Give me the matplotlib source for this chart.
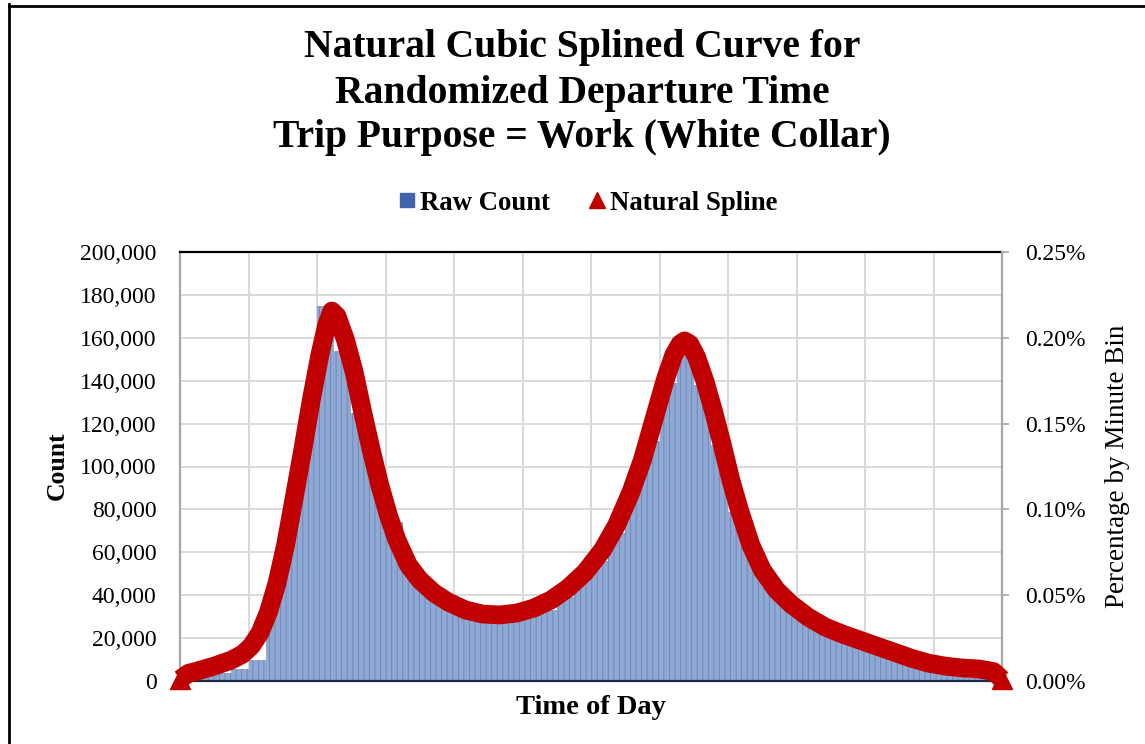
import matplotlib
matplotlib.use('Agg')
import matplotlib.pyplot as plt
from matplotlib.lines import Line2D
from matplotlib.ticker import FuncFormatter

plt.rcParams['font.family'] = ['Liberation Serif', 'DejaVu Serif']
plt.rcParams['hatch.linewidth'] = 0.7

# ---- data ----
# raw counts, read per 30-minute block (minute bins within a block are ~equal)
block_start_min = list(range(0, 1440, 30))
raw_count = [1500, 2500, 3500, 5500, 10000, 43000, 76000, 125000,
             175000, 154000, 125000, 98000, 74000, 51000, 43000, 38000,
             34000, 32000, 31000, 30500, 31000, 33000, 39000, 47000,
             56000, 69000, 90000, 112000, 139000, 154000, 138000, 110000,
             79000, 60000, 44000, 36000, 30000, 26000, 23000, 20000,
             16500, 13000, 8000, 5500, 3500, 2500, 1500, 1000]

# natural spline, percentage by minute bin
spline_min = [0, 15, 30, 60, 90, 110, 125, 140, 155, 170, 185, 200, 215, 230,
              245, 257, 266, 275, 290, 305, 320, 335, 350, 365, 380, 400, 420,
              445, 470, 500, 530, 560, 590, 620, 650, 680, 710, 740, 765, 790,
              810, 830, 850, 865, 876, 884, 893, 905, 920, 935, 950, 965, 980,
              1000, 1020, 1045, 1070, 1100, 1130, 1160, 1190, 1220, 1250, 1280,
              1310, 1340, 1370, 1400, 1425, 1440]
spline_pct = [0.0010, 0.0045, 0.0058, 0.0087, 0.0122, 0.0157, 0.0204, 0.0280,
              0.0402, 0.0571, 0.0793, 0.1067, 0.1346, 0.1638, 0.1900, 0.2075,
              0.2156, 0.2127, 0.1987, 0.1801, 0.1568, 0.1346, 0.1142, 0.0967,
              0.0822, 0.0676, 0.0589, 0.0513, 0.0460, 0.0414, 0.0390, 0.0385,
              0.0396, 0.0425, 0.0472, 0.0542, 0.0635, 0.0763, 0.0909, 0.1101,
              0.1288, 0.1521, 0.1754, 0.1900, 0.1964, 0.1982, 0.1964, 0.1888,
              0.1743, 0.1568, 0.1375, 0.1171, 0.0997, 0.0793, 0.0647, 0.0530,
              0.0449, 0.0373, 0.0315, 0.0274, 0.0239, 0.0204, 0.0169, 0.0134,
              0.0105, 0.0087, 0.0076, 0.0070, 0.0055, 0.0010]

count_ticks = list(range(0, 200001, 20000))
pct_ticks = [0.0, 0.05, 0.10, 0.15, 0.20, 0.25]
hour_grid_min = list(range(0, 1441, 120))

title_lines = ["Natural Cubic Splined Curve for",
               "Randomized Departure Time",
               "Trip Purpose = Work (White Collar)"]

# ---- figure ----
W, H = 1145, 744
fig = plt.figure(figsize=(W / 100, H / 100), dpi=100)
ax = fig.add_axes([180 / W, 1 - 681 / H, 822 / W, 429 / H])

ax.bar(block_start_min, raw_count, width=30, align='edge',
       facecolor='#90A9D2', edgecolor='#6B89C0', linewidth=0,
       hatch='|||', zorder=2)
ax.set_xlim(0, 1440)
ax.set_ylim(0, 200000)
ax.set_yticks(count_ticks)
ax.yaxis.set_major_formatter(FuncFormatter(lambda v, p: f"{int(v):,}"))
ax.set_xticks(hour_grid_min)
ax.set_xticklabels([])
ax.tick_params(axis='x', length=0)
ax.tick_params(axis='y', length=0, pad=17, labelsize=17)
ax.set_axisbelow(True)
ax.grid(True, color='#D9D9D9', linewidth=1.4, zorder=0)

for s in ['left', 'right']:
    ax.spines[s].set_color('#A6A6A6')
    ax.spines[s].set_linewidth(1.6)
ax.spines['right'].set_visible(False)
ax.spines['top'].set_color('black')
ax.spines['top'].set_linewidth(1.6)
ax.spines['bottom'].set_color('#1F2B45')
ax.spines['bottom'].set_linewidth(1.6)

ax2 = ax.twinx()
ax2.plot(spline_min, spline_pct, color='#C00000', linewidth=13.5,
         solid_joinstyle='round', solid_capstyle='butt', clip_on=False,
         zorder=3)
ax2.plot([spline_min[0], spline_min[-1]], [spline_pct[0], spline_pct[-1]],
         linestyle='none', marker='^', markersize=15, color='#C00000',
         clip_on=False, zorder=3)
ax2.set_ylim(0, 0.25)
ax2.set_yticks(pct_ticks)
ax2.yaxis.set_major_formatter(FuncFormatter(lambda v, p: f"{v:.2f}%"))
ax2.tick_params(axis='y', length=5, width=1.2, color='#A6A6A6', pad=12,
                labelsize=17, direction='out')
for s in ['left', 'bottom', 'top']:
    ax2.spines[s].set_visible(False)
ax2.spines['right'].set_color('#A6A6A6')
ax2.spines['right'].set_linewidth(1.6)

# titles and labels
for i, t in enumerate(title_lines):
    fig.text(582 / W, 1 - (48 + 45 * i) / H, t, ha='center', va='center',
             fontsize=28.5, fontweight='bold')
fig.text(57 / W, 1 - 466 / H, "Count", rotation=90, ha='center',
         va='center', fontsize=18.5, fontweight='bold')
fig.text(1117 / W, 1 - 466 / H, "Percentage by Minute Bin", rotation=90,
         ha='center', va='center', fontsize=19.5)
fig.text(591 / W, 1 - 707 / H, "Time of Day", ha='center', va='center',
         fontsize=20.5, fontweight='bold')

handles = [Line2D([], [], linestyle='none', marker='s', markersize=10,
                  color='#4065AC'),
           Line2D([], [], linestyle='none', marker='^', markersize=12,
                  color='#C00000')]
fig.legend(handles, ["Raw Count", "Natural Spline"], loc='center',
           bbox_to_anchor=(589 / W, 1 - 203 / H), ncol=2, frameon=False,
           prop={'size': 19.3, 'weight': 'bold'}, handlelength=0.5,
           handletextpad=0.25, columnspacing=1.5)

# outer chart border (left and top edges visible)
fig.add_artist(Line2D([8.5 / W, 8.5 / W], [0, 1 - 4 / H], color='black',
                      linewidth=2, transform=fig.transFigure))
fig.add_artist(Line2D([8.5 / W, 1], [1 - 5.5 / H, 1 - 5.5 / H],
                      color='black', linewidth=2, transform=fig.transFigure))

fig.savefig('out.png', dpi=100)
